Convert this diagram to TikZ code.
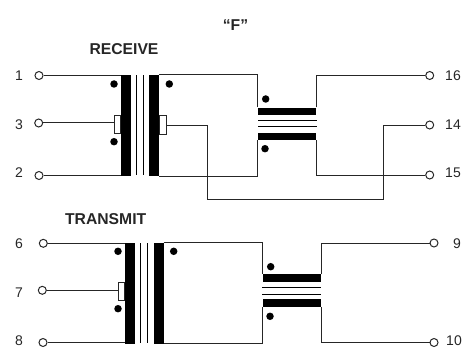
\documentclass[tikz,border=0pt]{standalone}
\usepackage{fontspec}
\setmainfont{Liberation Sans}
\tikzset{
    myterm/.style = {circle, line width=1pt, draw=black!85, fill=white, minimum size=8pt, inner sep=0},
    mybar/.style = {rectangle, fill=black, inner sep=0, minimum width=#1},
    mybarv/.style = {mybar=10pt, minimum height=101pt},
    mybarh/.style = {mybar=58.5pt, minimum height=7.5pt},
    mycorev/.style = {mybar=1pt, minimum height=100pt},
    mycoreh/.style = {mybar=59pt, minimum height=1pt},
    mytap/.style = {rectangle, line width=1pt, draw=black!85, fill=white, inner sep=0, minimum width=6.5pt, minimum height=18pt},
    mydot/.style = {circle, fill=black, inner sep=0, minimum size=7.5pt},
    mylabel/.style = {inner sep=0, font=\fontsize{14}{16}\selectfont, text=black!85},
    mytitle/.style = {inner sep=0, font=\fontsize{15.7}{18}\selectfont\bfseries, text=black!85},
    edgen/.style = {-,line width=1pt,black!85}
}
\begin{document}
\begin{tikzpicture}[x=1pt,y=-1pt]
\useasboundingbox (0,0) rectangle (468,350);

\node[mytitle] at (235.5, 25) (titlef) {“F”};
\node[mytitle] at (124, 49) (titlerx) {RECEIVE};
\node[mytitle] at (105.7, 219) (titletx) {TRANSMIT};

% receive
\node[myterm] at (39, 75.5) (t1) {};
\node[myterm] at (38.7, 123) (t3) {};
\node[myterm] at (39, 175.5) (t2) {};
\node[myterm] at (429.7, 75.5) (t16) {};
\node[myterm] at (429.7, 125) (t14) {};
\node[myterm] at (429.7, 175) (t15) {};
\node[mylabel] at (19, 76) (l1) {1};
\node[mylabel] at (19, 125) (l3) {3};
\node[mylabel] at (19, 173) (l2) {2};
\node[mylabel] at (453, 76) (l16) {16};
\node[mylabel] at (453, 125) (l14) {14};
\node[mylabel] at (453, 173) (l15) {15};

\node[mybarv] at (125.7, 125.5) (ra) {};
\node[mycorev] at (136.7, 125) (rb) {};
\node[mycorev] at (143.3, 125) (rc) {};
\node[mybarv] at (154.2, 125.5) (rd) {};
\node[mybarh] at (287.2, 111.3) (re) {};
\node[mycoreh] at (287.2, 120.7) (rf) {};
\node[mycoreh] at (287.2, 126.7) (rg) {};
\node[mybarh] at (287.2, 136.3) (rh) {};
\node[mytap] at (117.5, 124.5) (rp) {};
\node[mytap] at (162.8, 125) (rq) {};

\node[mydot] at (114, 84) (d1) {};
\node[mydot] at (114, 141.7) (d2) {};
\node[mydot] at (169.3, 84) (d3) {};
\node[mydot] at (265.7, 99) (d4) {};
\node[mydot] at (265, 148.7) (d5) {};

\coordinate (k1) at (207.3, 199.5);
\coordinate (k2) at (383, 199.5);

\draw[edgen] (t1) -- (t1 -| ra.west);
\draw[edgen] (t3) -- (t3 -| rp.west);
\draw[edgen] (t2) -- (t2 -| ra.west);
\draw[edgen] (rd.north east) -| (re.north west);
\draw[edgen] (rd.south east) -| (rh.south west);
\draw[edgen] (re.north east) |- (t16);
\draw[edgen] (rh.south east) |- (t15);
\draw[edgen] (rq.east) -| (k1) -- (k2) |- (t14);

% transmit
\node[myterm] at (43.3, 243.3) (t6) {};
\node[myterm] at (42.3, 290.3) (t7) {};
\node[myterm] at (43, 342.5) (t8) {};
\node[myterm] at (434, 243) (t9) {};
\node[myterm] at (434, 342.5) (t10) {};
\node[mylabel] at (19, 244) (l6) {6};
\node[mylabel] at (19, 293) (l7) {7};
\node[mylabel] at (19, 341) (l8) {8};
\node[mylabel] at (457, 244) (l9) {9};
\node[mylabel] at (454, 341) (l10) {10};

\node[mybarv] at (129.8, 293) (ta) {};
\node[mycorev] at (140.7, 293) (tb) {};
\node[mycorev] at (147.7, 293) (tc) {};
\node[mybarv] at (158.5, 293) (td) {};
\node[mybarh] at (291.8, 278.2) (te) {};
\node[mycoreh] at (291.8, 287.7) (tf) {};
\node[mycoreh] at (291.8, 294.3) (tg) {};
\node[mybarh] at (291.8, 303.2) (th) {};
\node[mytap] at (121.5, 291) (tp) {};

\node[mydot] at (118, 251.3) (d6) {};
\node[mydot] at (118, 308.7) (d7) {};
\node[mydot] at (173.7, 251.3) (d8) {};
\node[mydot] at (270.7, 266.7) (d9) {};
\node[mydot] at (270, 316.3) (d10) {};

\draw[edgen] (t6) -- (t6 -| ta.west);
\draw[edgen] (t7) -- (t7 -| tp.west);
\draw[edgen] (t8) -- (t8 -| ta.west);
\draw[edgen] (td.north east) -| (te.north west);
\draw[edgen] (td.south east) -| (th.south west);
\draw[edgen] (te.north east) |- (t9);
\draw[edgen] (th.south east) |- (t10);

\end{tikzpicture}
\end{document}
